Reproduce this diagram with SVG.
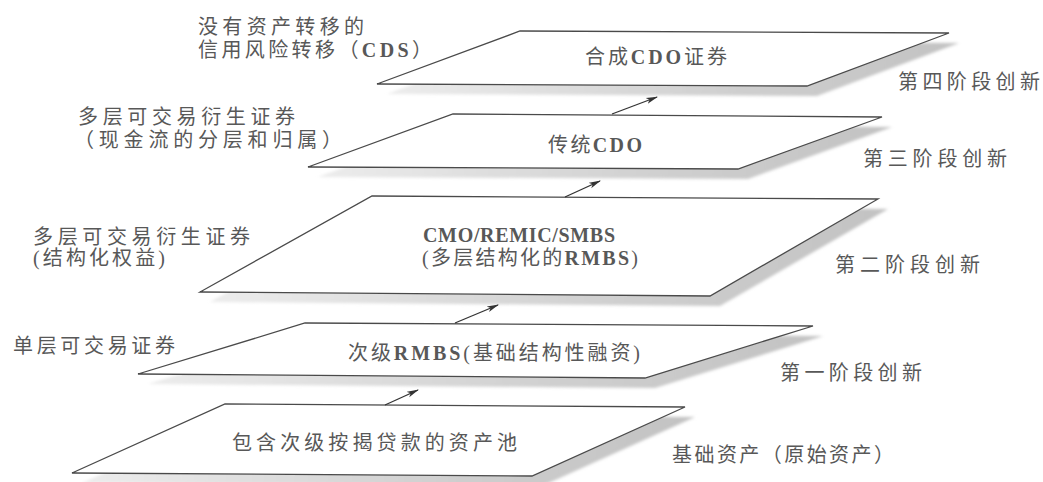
<svg xmlns="http://www.w3.org/2000/svg" width="1043" height="482" viewBox="0 0 1043 482">
<defs>
<style>
.plane{fill:#ffffff;stroke:#4a4a4a;stroke-width:1.3;stroke-linejoin:miter}
.shadow{fill:url(#sg);filter:url(#blur)}
.t{font-family:"Liberation Serif","Noto Sans CJK SC",serif;font-size:20px;fill:#585858}
.b{font-weight:bold}
.conn{stroke:#333333;stroke-width:1.3;fill:none;marker-end:url(#ah)}
</style>
<linearGradient id="sg" x1="0" y1="0" x2="1" y2="0">
<stop offset="0" stop-color="#ececec"/>
<stop offset="0.6" stop-color="#cfcfcf"/>
<stop offset="1" stop-color="#c2c2c2"/>
</linearGradient>
<filter id="blur" x="-5%" y="-20%" width="110%" height="140%">
<feGaussianBlur stdDeviation="1.8"/>
</filter>
<marker id="ah" markerWidth="12" markerHeight="8" refX="11" refY="4" orient="auto" markerUnits="userSpaceOnUse">
<path d="M0,1 L12,4 L0,7 L3,4 Z" fill="#333333"/>
</marker>
</defs>
<rect x="0" y="0" width="1043" height="482" fill="#ffffff"/>

<g id="side-labels">
<text class="t" x="198" y="34" textLength="166" lengthAdjust="spacing">没有资产转移的</text>
<text class="t" x="198" y="57" textLength="234" lengthAdjust="spacing">信用风险转移（<tspan class="b">CDS</tspan>）</text>
<text class="t" x="78" y="124" textLength="217" lengthAdjust="spacing">多层可交易衍生证券</text>
<text class="t" x="74" y="147" textLength="268" lengthAdjust="spacing">（现金流的分层和归属）</text>
<text class="t" x="33" y="244" textLength="217" lengthAdjust="spacing">多层可交易衍生证券</text>
<text class="t" x="33" y="265" textLength="132" lengthAdjust="spacing">(结构化权益)</text>
<text class="t" x="13" y="353" textLength="162" lengthAdjust="spacing">单层可交易证券</text>
</g>

<g id="stage-labels">
<text class="t" x="898" y="89" textLength="142" lengthAdjust="spacing">第四阶段创新</text>
<text class="t" x="863" y="166" textLength="144" lengthAdjust="spacing">第三阶段创新</text>
<text class="t" x="835" y="272" textLength="145" lengthAdjust="spacing">第二阶段创新</text>
<text class="t" x="780" y="380" textLength="142" lengthAdjust="spacing">第一阶段创新</text>
<text class="t" x="672" y="462" textLength="222" lengthAdjust="spacing">基础资产（原始资产）</text>
</g>

<g id="node-synthetic-cdo">
<polygon class="shadow" points="530,41 959,43 817,96 387,94"/>
<polygon class="plane" points="520,31 949,33 807,86 377,84"/>
<text class="t" x="585" y="64" textLength="142" lengthAdjust="spacing">合成<tspan class="b">CDO</tspan>证券</text>
</g>

<g id="node-traditional-cdo">
<polygon class="shadow" points="463,124 892,127 748,179 318,177"/>
<polygon class="plane" points="453,114 882,117 738,169 308,167"/>
<text class="t" x="548" y="152" textLength="94" lengthAdjust="spacing">传统<tspan class="b">CDO</tspan></text>
</g>

<g id="node-cmo">
<polygon class="shadow" points="382,206 888,209 720,306 210,302"/>
<polygon class="plane" points="372,196 878,199 710,296 200,292"/>
<text class="t b" x="423" y="242" textLength="192" lengthAdjust="spacing">CMO/REMIC/SMBS</text>
<text class="t" x="422" y="265" textLength="216" lengthAdjust="spacing">(多层结构化的<tspan class="b">RMBS</tspan>)</text>
</g>

<g id="node-subprime-rmbs">
<polygon class="shadow" points="315,333 823,336 655,388 148,384"/>
<polygon class="plane" points="305,323 813,326 645,378 138,374"/>
<text class="t" x="348" y="360" textLength="292" lengthAdjust="spacing">次级<tspan class="b">RMBS</tspan>(基础结构性融资)</text>
</g>

<g id="node-asset-pool">
<polygon class="shadow" points="235,414 695,417 542,486 82,483"/>
<polygon class="plane" points="225,404 685,407 532,476 72,473"/>
<text class="t" x="232" y="450" textLength="285" lengthAdjust="spacing">包含次级按揭贷款的资产池</text>
</g>

<g id="connectors">
<line class="conn" x1="612" y1="114" x2="657" y2="97"/>
<line class="conn" x1="565" y1="197" x2="600" y2="181"/>
<line class="conn" x1="455" y1="323" x2="498" y2="305"/>
<line class="conn" x1="385" y1="405" x2="418" y2="390"/>
</g>
</svg>
